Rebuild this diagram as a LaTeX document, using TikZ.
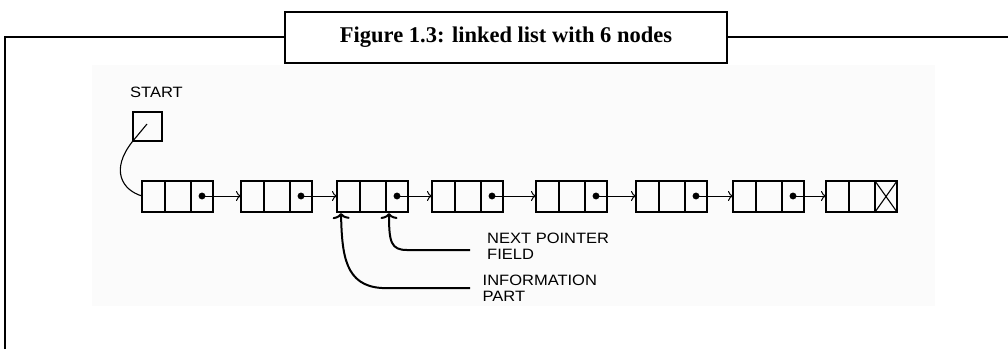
\documentclass[tikz,border=0pt]{standalone}
\usepackage{fontspec}
\setmainfont{Liberation Serif}
\newfontfamily\tagfont[FakeStretch=1.1]{Liberation Sans}
\usetikzlibrary{arrows.meta}

\tikzset{
    tagtext/.style={font=\tagfont\fontsize{15}{16}\selectfont, inner sep=0pt, align=left},
    link/.style={line width=1pt, -{To[length=5pt,width=10pt]}},
    pointer/.style={line width=2pt, -{To[length=6pt,width=17pt]}}
}

\begin{document}
\begin{tikzpicture}[x=1pt,y=-1pt]
    \useasboundingbox (0,0) rectangle (1008,349);
    \fill[black!1.5] (92,65) rectangle (935,306);

    % frame with title
    \node[draw, line width=2pt, minimum width=442pt, minimum height=51pt,
          font=\bfseries\fontsize{22.5}{26}\selectfont] (title) at (506,37)
          {Figure 1.3: linked list with 6 nodes};
    \draw[line width=2pt] (5,349) -- (5,37) -- (title.west);
    \draw[line width=2pt] (title.east) -- (1008,37);

    % start pointer
    \node[tagtext, anchor=base west] (startlabel) at (130,97) {START};
    \node[draw, line width=1.1pt, minimum size=29pt, inner sep=0pt] (startbox) at (147.5,126.5) {};
    \coordinate (sp) at (147,124);

    % the list
    \foreach \x [count=\i] in {142,241,337,432,536,636,733,826} {
        \draw[line width=1.8pt] (\x,181) rectangle +(71,31);
        \draw[line width=1.3pt] (\x+23,181) -- +(0,31);
        \draw[line width=1.6pt] (\x+49,181) -- +(0,31);
        \coordinate (in\i) at (\x,196);
        \coordinate (p\i) at (\x+60,196);
    }
    \foreach \i [count=\j from 2] in {1,...,7} {
        \draw[fill=black] (p\i) circle (3.2pt);
        \draw[link] (p\i) -- (in\j);
    }
    \draw[line width=1.1pt] (875,181) -- (897,212);
    \draw[line width=1.1pt] (897,181) -- (875,212);

    \draw[line width=1.1pt] (sp) -- (startbox.south west) .. controls (110,170) and (122,190) .. (in1);

    % labels under the third node
    \node[tagtext, anchor=north west] (nextlabel) at (487,232.5) {NEXT POINTER\\FIELD};
    \node[tagtext, anchor=north west] (infolabel) at (482.5,275.3) {INFORMATION\\PART};
    \coordinate (nextend) at (470,250);
    \coordinate (infoend) at (470,288);
    \coordinate (nexttip) at (389,213);
    \coordinate (infotip) at (341,213);
    \draw[pointer] (nextend) -- (407,250) .. controls (391,250) and (389,242) .. (nexttip);
    \draw[pointer] (infoend) -- (382,288) .. controls (345,286) and (342,255) .. (infotip);
\end{tikzpicture}
\end{document}
